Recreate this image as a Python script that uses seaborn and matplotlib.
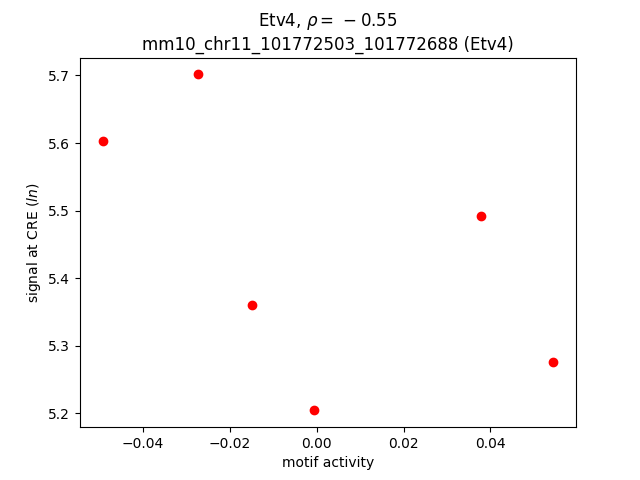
import matplotlib
matplotlib.use('Agg')
import matplotlib.pyplot as plt
import seaborn as sns
import pandas as pd

motif_activity = [-0.0493, -0.0273, -0.0149, -0.0006, 0.0378, 0.0545]
signal = [5.603, 5.7015, 5.360, 5.2044, 5.4914, 5.2754]
title = 'Etv4, $\\rho=\\,-0.55$\nmm10_chr11_101772503_101772688 (Etv4)'

df = pd.DataFrame({'motif activity': motif_activity, 'signal': signal})

fig, ax = plt.subplots(figsize=(6.4, 4.8), dpi=100)
sns.scatterplot(data=df, x='motif activity', y='signal', color='red',
                s=36, edgecolor='red', linewidth=1, ax=ax)
ax.set_title(title)
ax.set_xlabel('motif activity')
ax.set_ylabel('signal at CRE ($ln$)')
fig.savefig('out.png', dpi=100)
